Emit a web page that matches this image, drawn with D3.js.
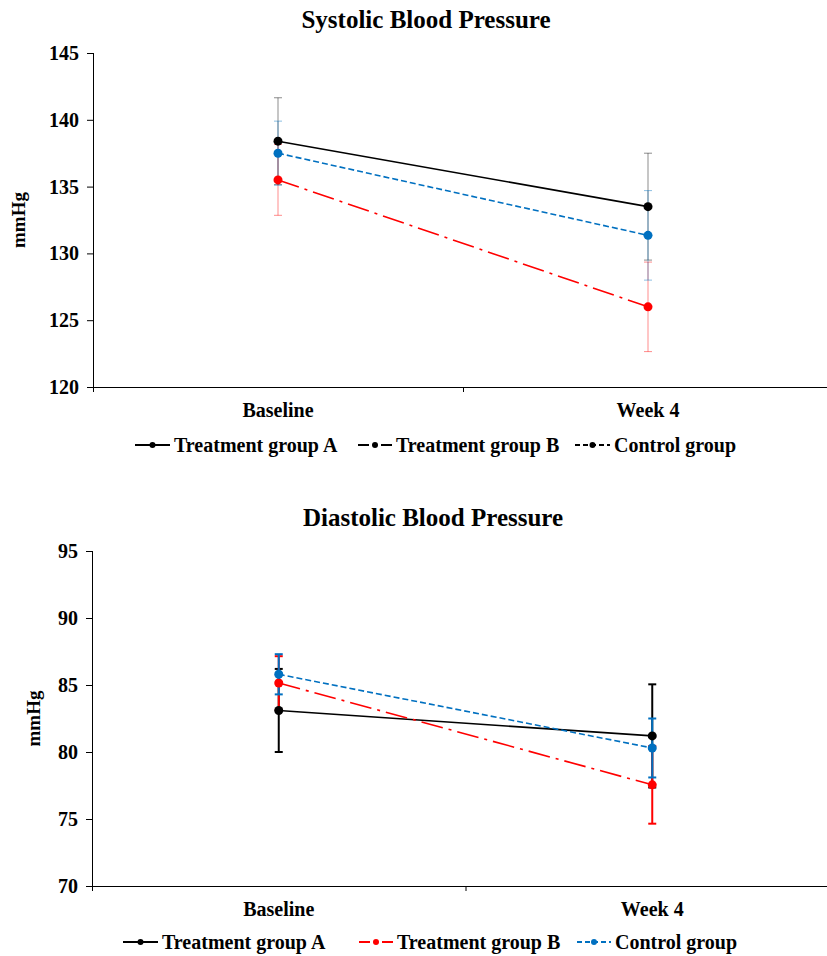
<!DOCTYPE html>
<html>
<head>
<meta charset="utf-8">
<script src="https://cdn.jsdelivr.net/npm/d3@7"></script>
<style>
  body { margin: 0; background: #fff; }
  svg text { font-family: "Liberation Serif", "Times New Roman", serif; font-weight: bold; }
  .axis path, .axis line { stroke: #000; }
</style>
</head>
<body>
<div id="chart"></div>
<script>
const width = 827;
const height = 956;

const categories = ['Baseline', 'Week 4'];
const seriesNames = ['Treatment group A', 'Treatment group B', 'Control group'];

// systolic
const sbpA = [138.4, 133.5];
const sbpAErr = [3.25, 4.0];
const sbpB = [135.5, 126.0];
const sbpBErr = [2.65, 3.35];
const sbpC = [137.5, 131.35];
const sbpCErr = [2.4, 3.35];
const sbpTicks = [120, 125, 130, 135, 140, 145];

// diastolic
const dbpA = [83.1, 81.2];
const dbpAErr = [3.1, 3.85];
const dbpB = [85.15, 77.55];
const dbpBErr = [2.0, 2.9];
const dbpC = [85.8, 80.3];
const dbpCErr = [1.5, 2.2];
const dbpTicks = [70, 75, 80, 85, 90, 95];

const colors = ['#000000', '#ff0000', '#0070c0'];
const dashes = [null, '22,6,3,6', '6,3'];
const legendDashes = [null, '11,12,11', '5,3'];

const svg = d3.select('#chart')
    .append('svg')
    .attr('width', width)
    .attr('height', height);

function drawPanel(opt) {
    const g = svg.append('g');
    const xScale = d3.scaleBand()
        .domain(categories)
        .range([opt.left, opt.right]);
    const yScale = d3.scaleLinear()
        .domain(d3.extent(opt.ticks))
        .range([opt.bottom, opt.top]);

    // title
    g.append('text')
        .attr('x', opt.titleX)
        .attr('y', opt.top - 25)
        .attr('text-anchor', 'middle')
        .style('font-size', '25px')
        .text(opt.title);

    // y axis
    const yAxis = d3.axisLeft(yScale)
        .tickValues(opt.ticks)
        .tickSize(6)
        .tickPadding(8);
    const yAxisG = g.append('g')
        .attr('class', 'axis')
        .attr('transform', 'translate(' + opt.left + ',0)')
        .call(yAxis);
    yAxisG.select('.domain').attr('d', 'M0.5,' + opt.top + 'V' + opt.bottom);
    yAxisG.selectAll('.tick text')
        .style('font-size', '20px')
        .attr('fill', '#000');

    g.append('text')
        .attr('transform', 'translate(' + opt.yLabelX + ',' + ((opt.top + opt.bottom) / 2) + ') rotate(-90)')
        .attr('text-anchor', 'middle')
        .attr('dy', '0.35em')
        .style('font-size', '19px')
        .text('mmHg');

    // x axis
    const xAxis = d3.axisBottom(xScale)
        .tickSize(0)
        .tickPadding(16)
        .tickSizeOuter(0);
    const xAxisG = g.append('g')
        .attr('class', 'axis')
        .attr('transform', 'translate(0,' + opt.bottom + ')')
        .call(xAxis);
    xAxisG.selectAll('.tick text')
        .style('font-size', '20px')
        .attr('fill', '#000');
    const bounds = categories.map(c => xScale(c)).concat([opt.right]);
    xAxisG.selectAll('.bound')
        .data(bounds)
        .enter()
        .append('line')
        .attr('class', 'bound')
        .attr('x1', d => d + 0.5)
        .attr('x2', d => d + 0.5)
        .attr('y1', 0)
        .attr('y2', 5)
        .attr('stroke', '#999');

    const cx = c => xScale(c) + xScale.bandwidth() / 2;

    // error bars
    opt.series.forEach(function (s, si) {
        const eg = g.append('g')
            .attr('stroke', colors[si])
            .attr('stroke-width', opt.errWidth)
            .attr('stroke-opacity', opt.errOpacity);
        categories.forEach(function (c, i) {
            const x = cx(c);
            const y1 = yScale(s.values[i] + s.err[i]);
            const y2 = yScale(s.values[i] - s.err[i]);
            eg.append('line').attr('x1', x).attr('x2', x).attr('y1', y1).attr('y2', y2);
            eg.append('line').attr('x1', x - 4).attr('x2', x + 4).attr('y1', y1).attr('y2', y1);
            eg.append('line').attr('x1', x - 4).attr('x2', x + 4).attr('y1', y2).attr('y2', y2);
        });
    });

    // lines and points
    const line = d3.line()
        .x((d, i) => cx(categories[i]))
        .y(d => yScale(d));
    opt.series.forEach(function (s, si) {
        g.append('path')
            .datum(s.values)
            .attr('d', line)
            .attr('fill', 'none')
            .attr('stroke', colors[si])
            .attr('stroke-width', 1.6)
            .attr('stroke-dasharray', dashes[si]);
        g.selectAll('.dot' + si)
            .data(s.values)
            .enter()
            .append('circle')
            .attr('cx', (d, i) => cx(categories[i]))
            .attr('cy', d => yScale(d))
            .attr('r', 4.5)
            .attr('fill', colors[si]);
    });

    // legend
    const lg = g.append('g');
    opt.legend.forEach(function (L, si) {
        const col = opt.legendColored ? colors[si] : '#000';
        lg.append('line')
            .attr('x1', L.x1)
            .attr('x2', L.x2)
            .attr('y1', opt.legendY)
            .attr('y2', opt.legendY)
            .attr('stroke', col)
            .attr('stroke-width', 1.8)
            .attr('stroke-dasharray', legendDashes[si]);
        lg.append('circle')
            .attr('cx', (L.x1 + L.x2) / 2)
            .attr('cy', opt.legendY)
            .attr('r', 3)
            .attr('fill', col);
        lg.append('text')
            .attr('x', L.x2 + 4)
            .attr('y', opt.legendY)
            .attr('dy', '0.35em')
            .style('font-size', '20px')
            .text(seriesNames[si]);
    });
}

drawPanel({
    title: 'Systolic Blood Pressure',
    titleX: 426,
    left: 93,
    right: 833,
    top: 53,
    bottom: 387,
    ticks: sbpTicks,
    yLabelX: 18,
    errWidth: 1,
    errOpacity: 0.45,
    legendY: 445,
    legendColored: false,
    legend: [{x1: 135, x2: 170}, {x1: 358, x2: 392}, {x1: 575, x2: 610}],
    series: [
        {values: sbpA, err: sbpAErr},
        {values: sbpB, err: sbpBErr},
        {values: sbpC, err: sbpCErr}
    ]
});

drawPanel({
    title: 'Diastolic Blood Pressure',
    titleX: 433,
    left: 92,
    right: 839,
    top: 551,
    bottom: 886,
    ticks: dbpTicks,
    yLabelX: 33,
    errWidth: 2,
    errOpacity: 1,
    legendY: 942,
    legendColored: true,
    legend: [{x1: 123, x2: 158}, {x1: 359, x2: 393}, {x1: 577, x2: 611}],
    series: [
        {values: dbpA, err: dbpAErr},
        {values: dbpB, err: dbpBErr},
        {values: dbpC, err: dbpCErr}
    ]
});
</script>
</body>
</html>
